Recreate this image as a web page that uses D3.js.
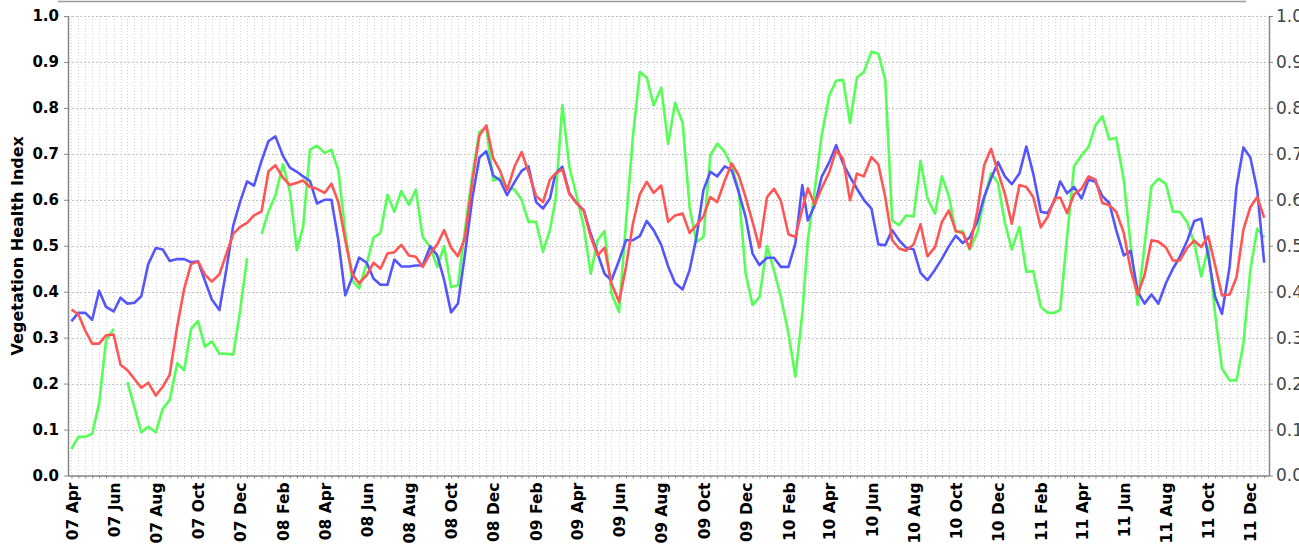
<!DOCTYPE html>
<html>
<head>
<meta charset="utf-8">
<script src="https://cdn.jsdelivr.net/npm/d3@7/dist/d3.min.js"></script>
<style>
  body { margin: 0; background: #fff; }
  svg { display: block; font-family: "DejaVu Sans", sans-serif; }
</style>
</head>
<body>
<div id="chart"></div>
<script>
// dekadal observations, Apr 2007 .. Dec 2011 (1st, 11th, 21st of each month)
const firstMonth = new Date(2007, 3, 1);
const lastMonth = new Date(2011, 11, 1);
const dekadDays = [1, 11, 21];

const greenSeries = [
  0.058, 0.084, 0.084, 0.091, 0.157, 0.294, 0.319, null, 0.203, 0.149,
  0.094, 0.106, 0.094, 0.145, 0.164, 0.244, 0.229, 0.319, 0.336, 0.280,
  0.292, 0.265, 0.265, 0.263, 0.360, 0.473, null, 0.526, 0.575, 0.610,
  0.677, 0.617, 0.490, 0.541, 0.709, 0.718, 0.702, 0.709, 0.664, 0.530,
  0.425, 0.407, 0.461, 0.518, 0.528, 0.611, 0.574, 0.619, 0.589, 0.622,
  0.519, 0.497, 0.454, 0.499, 0.410, 0.414, 0.534, 0.657, 0.748, 0.757,
  0.642, 0.648, 0.628, 0.622, 0.600, 0.552, 0.552, 0.487, 0.534, 0.599,
  0.806, 0.672, 0.606, 0.541, 0.439, 0.512, 0.532, 0.396, 0.356, 0.550,
  0.737, 0.878, 0.866, 0.806, 0.844, 0.722, 0.811, 0.767, 0.584, 0.508,
  0.519, 0.697, 0.722, 0.704, 0.673, 0.621, 0.440, 0.371, 0.388, 0.499,
  0.447, 0.389, 0.309, 0.215, 0.352, 0.512, 0.621, 0.740, 0.827, 0.859,
  0.861, 0.767, 0.866, 0.878, 0.922, 0.918, 0.861, 0.555, 0.545, 0.566,
  0.564, 0.685, 0.603, 0.570, 0.651, 0.608, 0.530, 0.532, 0.492, 0.528,
  0.600, 0.658, 0.637, 0.550, 0.492, 0.541, 0.443, 0.445, 0.367, 0.354,
  0.354, 0.361, 0.520, 0.673, 0.697, 0.715, 0.762, 0.782, 0.731, 0.735,
  0.643, 0.500, 0.371, 0.500, 0.629, 0.646, 0.634, 0.574, 0.574, 0.550,
  0.505, 0.433, 0.497, 0.352, 0.233, 0.207, 0.207, 0.287, 0.447, 0.537,
  0.518
];

const redSeries = [
  0.361, 0.351, 0.315, 0.287, 0.287, 0.305, 0.307, 0.241, 0.229, 0.210,
  0.191, 0.202, 0.174, 0.193, 0.219, 0.325, 0.406, 0.460, 0.466, 0.437,
  0.422, 0.438, 0.482, 0.526, 0.541, 0.550, 0.566, 0.575, 0.662, 0.675,
  0.648, 0.632, 0.637, 0.642, 0.628, 0.624, 0.615, 0.635, 0.595, 0.512,
  0.439, 0.418, 0.436, 0.463, 0.450, 0.483, 0.486, 0.502, 0.479, 0.476,
  0.454, 0.483, 0.503, 0.534, 0.496, 0.477, 0.517, 0.642, 0.740, 0.762,
  0.690, 0.663, 0.621, 0.673, 0.704, 0.661, 0.608, 0.595, 0.644, 0.657,
  0.666, 0.613, 0.592, 0.576, 0.519, 0.479, 0.496, 0.418, 0.378, 0.454,
  0.548, 0.612, 0.639, 0.615, 0.631, 0.552, 0.566, 0.570, 0.528, 0.545,
  0.564, 0.606, 0.595, 0.642, 0.679, 0.653, 0.606, 0.552, 0.496, 0.606,
  0.624, 0.598, 0.525, 0.519, 0.580, 0.625, 0.590, 0.625, 0.660, 0.708,
  0.689, 0.599, 0.657, 0.651, 0.693, 0.677, 0.606, 0.512, 0.494, 0.489,
  0.503, 0.547, 0.477, 0.497, 0.552, 0.577, 0.532, 0.528, 0.494, 0.574,
  0.675, 0.711, 0.661, 0.613, 0.548, 0.632, 0.628, 0.606, 0.540, 0.563,
  0.603, 0.605, 0.571, 0.612, 0.624, 0.651, 0.644, 0.593, 0.588, 0.574,
  0.528, 0.447, 0.394, 0.436, 0.512, 0.509, 0.496, 0.468, 0.468, 0.496,
  0.511, 0.497, 0.521, 0.458, 0.392, 0.394, 0.431, 0.535, 0.584, 0.606,
  0.561
];

const blueSeries = [
  0.336, 0.354, 0.354, 0.339, 0.402, 0.367, 0.357, 0.387, 0.374, 0.376,
  0.390, 0.460, 0.495, 0.492, 0.467, 0.471, 0.471, 0.464, 0.466, 0.424,
  0.383, 0.360, 0.448, 0.544, 0.596, 0.640, 0.631, 0.685, 0.728, 0.738,
  0.695, 0.670, 0.661, 0.651, 0.641, 0.592, 0.600, 0.600, 0.512, 0.392,
  0.431, 0.474, 0.463, 0.428, 0.415, 0.415, 0.470, 0.455, 0.455, 0.457,
  0.457, 0.499, 0.479, 0.426, 0.355, 0.374, 0.480, 0.606, 0.692, 0.706,
  0.653, 0.642, 0.610, 0.639, 0.663, 0.673, 0.595, 0.581, 0.603, 0.657,
  0.672, 0.615, 0.592, 0.577, 0.526, 0.483, 0.439, 0.425, 0.468, 0.512,
  0.512, 0.521, 0.554, 0.534, 0.502, 0.455, 0.419, 0.405, 0.447, 0.519,
  0.621, 0.661, 0.651, 0.673, 0.664, 0.617, 0.563, 0.483, 0.458, 0.474,
  0.474, 0.454, 0.454, 0.505, 0.632, 0.555, 0.588, 0.650, 0.682, 0.719,
  0.679, 0.650, 0.624, 0.600, 0.581, 0.503, 0.501, 0.534, 0.512, 0.496,
  0.492, 0.441, 0.425, 0.448, 0.472, 0.499, 0.522, 0.506, 0.518, 0.552,
  0.606, 0.646, 0.682, 0.651, 0.634, 0.657, 0.716, 0.657, 0.574, 0.571,
  0.599, 0.640, 0.614, 0.628, 0.603, 0.644, 0.639, 0.608, 0.593, 0.534,
  0.479, 0.489, 0.400, 0.374, 0.394, 0.374, 0.419, 0.450, 0.476, 0.512,
  0.554, 0.559, 0.480, 0.389, 0.352, 0.454, 0.628, 0.714, 0.692, 0.621,
  0.463
];

const yTickValues = [0, 0.1, 0.2, 0.3, 0.4, 0.5, 0.6, 0.7, 0.8, 0.9, 1.0];
const yAxisTitle = "Vegetation Health Index";

// build the dekad dates
const dekads = [];
d3.timeMonths(firstMonth, d3.timeMonth.offset(lastMonth, 1)).forEach(m => {
  dekadDays.forEach(day => dekads.push(new Date(m.getFullYear(), m.getMonth(), day)));
});
const labelMonths = d3.timeMonths(firstMonth, d3.timeMonth.offset(lastMonth, 1), 2);

const width = 1299, height = 547;
const plot = { left: 68, right: 1269, top: 16, bottom: 475.5 };

const svg = d3.select("#chart").append("svg")
  .attr("width", width)
  .attr("height", height);

const x = d3.scaleTime()
  .domain([d3.timeDay.offset(dekads[0], -5), d3.timeDay.offset(dekads[dekads.length - 1], 7)])
  .range([plot.left, plot.right]);
const y = d3.scaleLinear().domain([0, 1]).range([plot.bottom, plot.top]);

// line at the very top (bottom edge of the cropped title block)
svg.append("line")
  .attr("x1", 58).attr("x2", 1246).attr("y1", 1.5).attr("y2", 1.5)
  .attr("stroke", "#9a9a9a").attr("stroke-width", 1.5);

// grid
const grid = svg.append("g");
grid.selectAll(".vg")
  .data(dekads)
  .enter().append("line")
  .attr("x1", d => Math.round(x(d)) + 0.5).attr("x2", d => Math.round(x(d)) + 0.5)
  .attr("y1", plot.top).attr("y2", plot.bottom)
  .attr("stroke", "#d4d4d4")
  .attr("stroke-dasharray", "1,2");
grid.selectAll(".hg")
  .data(yTickValues)
  .enter().append("line")
  .attr("x1", plot.left).attr("x2", plot.right)
  .attr("y1", d => Math.round(y(d)) + 0.5).attr("y2", d => Math.round(y(d)) + 0.5)
  .attr("stroke", "#c4c4c4")
  .attr("stroke-dasharray", "2,2");

// series
const line = d3.line()
  .defined(d => d.v != null)
  .x(d => x(d.date))
  .y(d => y(d.v));

const series = [
  { values: greenSeries, color: "#55ff55" },
  { values: blueSeries, color: "#5555ff" },
  { values: redSeries, color: "#ff5555" },
];
series.forEach(s => {
  svg.append("path")
    .datum(s.values.map((v, i) => ({ date: dekads[i], v: v })))
    .attr("fill", "none")
    .attr("stroke", s.color)
    .attr("stroke-width", 2.6)
    .attr("stroke-linejoin", "round")
    .attr("d", line);
});

// left axis
const yLeft = svg.append("g")
  .attr("transform", "translate(" + plot.left + ",0)")
  .call(d3.axisLeft(y).tickValues(yTickValues).tickFormat(d3.format(".1f")).tickSize(4).tickPadding(5).tickSizeOuter(0));
yLeft.select(".domain").attr("stroke", "#888").attr("stroke-width", 1.5);
yLeft.selectAll(".tick line").attr("stroke", "#888");
yLeft.selectAll("text").attr("font-size", 15).attr("font-weight", "bold").attr("fill", "#000")
  .attr("font-family", "DejaVu Sans, sans-serif");

// right axis (labels run off the right edge, as in the original)
const yRight = svg.append("g")
  .attr("transform", "translate(" + plot.right + ",0)")
  .call(d3.axisRight(y).tickValues(yTickValues).tickFormat(d3.format(".1f")).tickSize(4).tickPadding(3).tickSizeOuter(0));
yRight.select(".domain").attr("stroke", "#888").attr("stroke-width", 1.5);
yRight.selectAll(".tick line").attr("stroke", "#888");
yRight.selectAll("text").attr("font-size", 17).attr("fill", "#444")
  .attr("font-family", "DejaVu Sans, sans-serif");

// bottom axis: a tick per dekad
const xMinor = svg.append("g")
  .attr("transform", "translate(0," + plot.bottom + ")")
  .call(d3.axisBottom(x).tickValues(dekads).tickFormat("").tickSize(3).tickSizeOuter(0));
xMinor.select(".domain").attr("stroke", "#888").attr("stroke-width", 1.5);
xMinor.selectAll(".tick line").attr("stroke", "#888");

// bottom axis labels every two months
const xLabels = svg.append("g")
  .attr("transform", "translate(0," + plot.bottom + ")")
  .call(d3.axisBottom(x).tickValues(labelMonths).tickFormat(d3.timeFormat("%y %b")).tickSize(0));
xLabels.select(".domain").remove();
xLabels.selectAll("text")
  .attr("transform", "rotate(-90)")
  .attr("x", -7)
  .attr("y", 0)
  .attr("dy", "0.36em")
  .attr("text-anchor", "end")
  .attr("font-size", 15.5)
  .attr("font-weight", "bold")
  .attr("fill", "#000")
  .attr("font-family", "DejaVu Sans, sans-serif");

// y axis title
svg.append("text")
  .attr("transform", "translate(17," + ((plot.top + plot.bottom) / 2) + ") rotate(-90)")
  .attr("text-anchor", "middle")
  .attr("dominant-baseline", "central")
  .attr("font-size", 16)
  .attr("font-weight", "bold")
  .text(yAxisTitle);
</script>
</body>
</html>
